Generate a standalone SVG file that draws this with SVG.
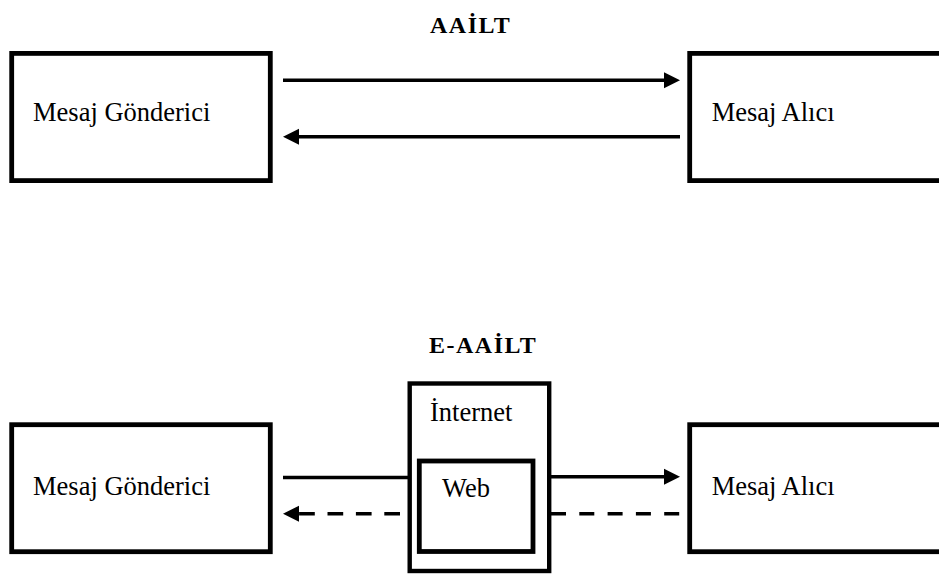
<svg xmlns="http://www.w3.org/2000/svg" width="939" height="574" viewBox="0 0 939 574">
  <style>
    .box { fill: #fff; stroke: #000; stroke-width: 4.8; }
    .lbl { font-family: "Liberation Serif", "DejaVu Serif", serif; font-size: 26.5px; font-weight: normal; fill: #000; }
    .ttl { font-family: "Liberation Serif", "DejaVu Serif", serif; font-size: 24px; font-weight: bold; letter-spacing: 1.5px; fill: #000; }
    .ln { stroke: #000; stroke-width: 3.6; fill: none; }
    .dash { stroke-dasharray: 15 13.3; }
    .head { fill: #000; }
  </style>
  <rect width="939" height="574" fill="#fff"/>

  <!-- Upper scheme: AAİLT -->
  <text class="ttl" x="430" y="32.7">AAİLT</text>
  <g id="gonderici-1">
    <rect class="box" x="11.7" y="53.4" width="258.6" height="127.2"/>
    <text class="lbl" x="33" y="120.7">Mesaj Gönderici</text>
  </g>
  <g id="alici-1">
    <rect class="box" x="689.7" y="53.4" width="262" height="127.2"/>
    <text class="lbl" x="711.7" y="120.7">Mesaj Alıcı</text>
  </g>

  <!-- Lower scheme: E-AAİLT -->
  <text class="ttl" x="429" y="352.7">E-AAİLT</text>
  <g id="gonderici-2">
    <rect class="box" x="11.7" y="424.7" width="258.6" height="127"/>
    <text class="lbl" x="33" y="494.6">Mesaj Gönderici</text>
  </g>
  <g id="internet">
    <rect class="box" x="409.7" y="383.5" width="139.5" height="187.5" style="stroke-width: 4.4"/>
    <text class="lbl" x="430" y="421">İnternet</text>
  </g>
  <g id="web">
    <rect class="box" x="419.3" y="461" width="113.7" height="90.5"/>
    <text class="lbl" x="442" y="496.7">Web</text>
  </g>
  <g id="alici-2">
    <rect class="box" x="689.7" y="424.7" width="262" height="127"/>
    <text class="lbl" x="711.7" y="495">Mesaj Alıcı</text>
  </g>

  <g id="connectors">
    <!-- upper: sender to receiver -->
    <line class="ln" x1="283" y1="80.3" x2="665" y2="80.3"/>
    <polygon class="head" points="680,80.3 664,72.3 664,88.3"/>
    <!-- upper: receiver back to sender -->
    <line class="ln" x1="680" y1="136.7" x2="298" y2="136.7"/>
    <polygon class="head" points="283,136.7 299,128.7 299,144.7"/>

    <!-- lower: sender into internet, internet out to receiver -->
    <line class="ln" x1="283" y1="477.5" x2="408" y2="477.5"/>
    <line class="ln" x1="551" y1="476.7" x2="665" y2="476.7"/>
    <polygon class="head" points="680,476.7 664,468.7 664,484.7"/>
    <!-- lower: dashed return path -->
    <line class="ln dash" x1="551" y1="513.7" x2="681" y2="513.7"/>
    <line class="ln" x1="400" y1="513.7" x2="298" y2="513.7" style="stroke-dasharray: 15.7 12.7"/>
    <polygon class="head" points="283,513.7 299,505.7 299,521.7"/>
  </g>
</svg>
